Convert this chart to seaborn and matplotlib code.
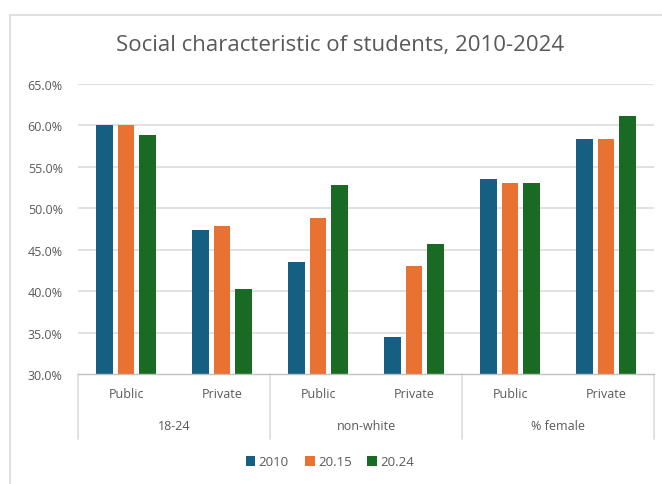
import matplotlib
matplotlib.use("Agg")
import matplotlib.pyplot as plt
import matplotlib.transforms as mtransforms
from matplotlib.patches import Rectangle, Patch
import seaborn as sns
import pandas as pd

groups = ["18-24", "non-white", "% female"]
sectors = ["Public", "Private"]
years = ["2010", "20.15", "20.24"]
v2010 = [60.0, 47.4, 43.5, 34.5, 53.5, 58.4]
v2015 = [60.0, 47.9, 48.8, 43.0, 53.0, 58.4]
v2024 = [58.8, 40.3, 52.8, 45.7, 53.0, 61.1]
yticks = [30, 35, 40, 45, 50, 55, 60, 65]
colors = ["#156082", "#E97132", "#196B24"]

cats = [f"{g}|{s}" for g in groups for s in sectors]
rows = []
for yr, vals in zip(years, [v2010, v2015, v2024]):
    for c, v in zip(cats, vals):
        rows.append({"cat": c, "year": yr, "value": v})
df = pd.DataFrame(rows)

sns.set_theme(style="white")
plt.rcParams["font.family"] = ["Open Sans", "DejaVu Sans"]

W, H = 662, 485
fig = plt.figure(figsize=(W / 100, H / 100), dpi=100)
ax = fig.add_axes([78 / W, 1 - 375 / H, 576 / W, 290 / H])

sns.barplot(data=df, x="cat", y="value", hue="year", order=cats, hue_order=years,
            palette=colors, width=0.66, gap=0.2, ax=ax, legend=False,
            saturation=1, linewidth=0)

ax.set_ylim(30, 65)
ax.set_xlim(-0.5, 5.5)
ax.set_yticks(yticks)
ax.set_yticklabels([f"{t:.1f}%" for t in yticks], color="#595959", fontsize=9)
ax.tick_params(axis="y", length=0, pad=11)
ax.set_xticks([])
ax.set_xlabel("")
ax.set_ylabel("")
for y in yticks[1:]:
    ax.axhline(y, color="#d9d9d9", lw=1.1, zorder=0)
for s in ["left", "right", "top"]:
    ax.spines[s].set_visible(False)
ax.spines["bottom"].set_color("#bfbfbf")
ax.spines["bottom"].set_linewidth(1.0)
ax.set_axisbelow(True)

trans = mtransforms.blended_transform_factory(ax.transData, ax.transAxes)
for i, c in enumerate(cats):
    ax.text(i, -20 / 290, c.split("|")[1], transform=trans, ha="center", va="center",
            fontsize=9, color="#595959")
for j, g in enumerate(groups):
    ax.text(2 * j + 0.5, -52 / 290, g, transform=trans, ha="center", va="center",
            fontsize=9, color="#595959")
for xsep in [-0.5, 1.5, 3.5, 5.5]:
    ax.plot([xsep, xsep], [0, -65 / 290], transform=trans, color="#d9d9d9",
            lw=1.1, clip_on=False)

handles = [Patch(facecolor=c, edgecolor="none", label=y) for c, y in zip(colors, years)]
fig.legend(handles=handles, loc="center", bbox_to_anchor=(330 / W, 1 - 463 / H), ncol=3,
           frameon=False, handlelength=0.75, handleheight=0.75, handletextpad=0.25,
           columnspacing=1.2, prop={"size": 9.5}, labelcolor="#595959")

fig.text(340 / W, 1 - 46 / H, "Social characteristic of students, 2010-2024",
         ha="center", va="center", fontsize=16, color="#595959")

fig.patches.append(Rectangle((10 / W, -0.5), 2, 0.5 + 1 - 16 / H,
                             transform=fig.transFigure, fill=False,
                             edgecolor="#d9d9d9", lw=1.2))

fig.savefig("out.png", dpi=100)
